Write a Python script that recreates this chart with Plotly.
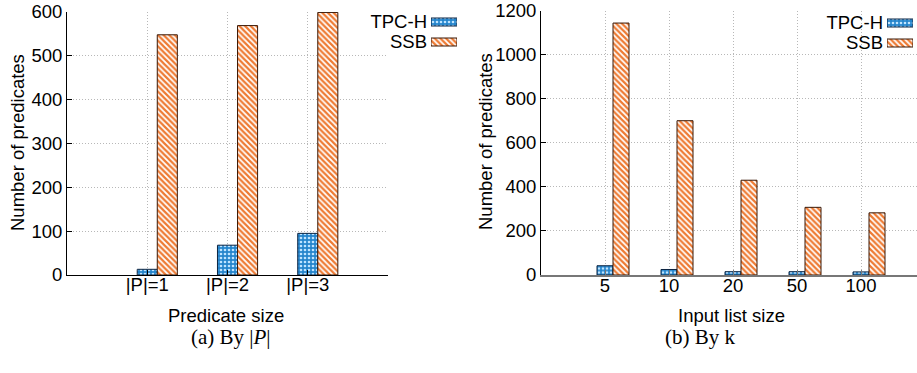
import plotly.graph_objects as go

# ---------------- data ----------------
series_names = ["TPC-H", "SSB"]

cats_p = ["|P|=1", "|P|=2", "|P|=3"]
tpch_p = [13, 68, 95]
ssb_p = [548, 569, 599]

cats_k = ["5", "10", "20", "50", "100"]
tpch_k = [42, 25, 15, 15, 14]
ssb_k = [1143, 700, 430, 307, 282]

# ---------------- styling ----------------
W, H = 917, 373
FONT = "Liberation Sans"
FS = 18.5
SERIF = "Liberation Serif"
BLUE = "#2585cc"
BLUE_DOT = "#bfe4ff"
BLUE_LINE = "#0b2340"
ORANGE = "#ee7a32"
ORANGE_LINE = "#3a1806"
BAR_W = 0.25


def px_x(p):
    return p / W


def px_y(p):
    return 1 - p / H


def tpch_marker():
    return dict(color=BLUE,
                pattern=dict(shape=".", fgcolor=BLUE_DOT, bgcolor=BLUE, size=4, solidity=0.35,
                             fillmode="replace"),
                line=dict(color=BLUE_LINE, width=1))


def ssb_marker():
    return dict(color=ORANGE,
                pattern=dict(shape="\\", fgcolor=ORANGE, bgcolor="white", size=4, solidity=0.55,
                             fillmode="replace"),
                line=dict(color=ORANGE_LINE, width=1))


fig = go.Figure()

# left chart
pos_p = list(range(1, len(cats_p) + 1))
fig.add_trace(go.Bar(x=pos_p, y=tpch_p, width=BAR_W, offset=-BAR_W / 2, marker=tpch_marker(),
                     name=series_names[0], xaxis="x", yaxis="y", showlegend=False))
fig.add_trace(go.Bar(x=pos_p, y=ssb_p, width=BAR_W, offset=BAR_W / 2, marker=ssb_marker(),
                     name=series_names[1], xaxis="x", yaxis="y", showlegend=False))

# right chart
pos_k = list(range(1, len(cats_k) + 1))
fig.add_trace(go.Bar(x=pos_k, y=tpch_k, width=BAR_W, offset=-BAR_W / 2, marker=tpch_marker(),
                     name=series_names[0], xaxis="x2", yaxis="y2", showlegend=False))
fig.add_trace(go.Bar(x=pos_k, y=ssb_k, width=BAR_W, offset=BAR_W / 2, marker=ssb_marker(),
                     name=series_names[1], xaxis="x2", yaxis="y2", showlegend=False))

# custom legends (text on left, swatch on right, like gnuplot)
for xa, ya in (("x3", "y3"), ("x4", "y4")):
    fig.add_trace(go.Bar(y=[series_names[0]], x=[1], orientation="h", width=0.4,
                         marker=tpch_marker(), xaxis=xa, yaxis=ya, showlegend=False,
                         hoverinfo="skip"))
    fig.add_trace(go.Bar(y=[series_names[1]], x=[1], orientation="h", width=0.4,
                         marker=ssb_marker(), xaxis=xa, yaxis=ya, showlegend=False,
                         hoverinfo="skip"))

grid = dict(showgrid=True, gridcolor="#b8b8b8", griddash="1px,2px", gridwidth=1)
tickfont = dict(family=FONT, size=FS, color="black")

legend_y = dict(type="category", categoryorder="array", categoryarray=series_names,
                tickmode="array", tickvals=series_names, ticktext=series_names,
                autorange="reversed", showgrid=False, showline=False, ticks="",
                zeroline=False, tickfont=tickfont, ticklabelstandoff=3, automargin=False)

common = dict(zeroline=False, automargin=False, ticklabeloverflow="allow", tickfont=tickfont)

fig.update_layout(
    width=W, height=H,
    margin=dict(l=0, r=0, t=0, b=0, autoexpand=False),
    paper_bgcolor="white", plot_bgcolor="white",
    barmode="overlay",
    font=dict(family=FONT, size=FS, color="black"),
    xaxis=dict(domain=[px_x(67), px_x(388)], range=[0, len(cats_p) + 1],
               tickvals=pos_p, ticktext=cats_p, ticks="inside", ticklen=5,
               tickcolor="black", showline=True, linecolor="black", linewidth=1,
               ticklabelstandoff=-7, anchor="y", **common, **grid),
    yaxis=dict(domain=[px_y(275), px_y(12)], range=[0, 600], dtick=100,
               ticks="inside", ticklen=5, tickcolor="black",
               showline=True, linecolor="black", linewidth=1,
               anchor="x", **common, **grid),
    xaxis2=dict(domain=[px_x(541), 1.0], range=[0, 5.875],
                tickvals=pos_k, ticktext=cats_k, ticks="inside", ticklen=5,
                tickcolor="#777777", showline=True, linecolor="#777777", linewidth=1.5,
                ticklabelstandoff=-7, anchor="y2", **common, **grid),
    yaxis2=dict(domain=[px_y(275), px_y(10.5)], range=[0, 1200], dtick=200,
                ticks="inside", ticklen=5, tickcolor="black",
                showline=True, linecolor="black", linewidth=1,
                anchor="x2", **common, **grid),
    xaxis3=dict(domain=[px_x(431), px_x(457)], range=[0, 1], visible=False, anchor="y3",
                automargin=False),
    yaxis3=dict(domain=[px_y(52), px_y(12)], anchor="x3", **legend_y),
    xaxis4=dict(domain=[px_x(887), px_x(913)], range=[0, 1], visible=False, anchor="y4",
                automargin=False),
    yaxis4=dict(domain=[px_y(53), px_y(13)], anchor="x4", **legend_y),
)

annotations = [
    dict(text="Number of predicates", x=px_x(17), y=px_y(143), textangle=-90),
    dict(text="Number of predicates", x=px_x(485), y=px_y(141), textangle=-90),
    dict(text="Predicate size", x=px_x(226), y=px_y(315)),
    dict(text="Input list size", x=px_x(731), y=px_y(315)),
    dict(text="(a) By |<i>P</i>|", x=px_x(231), y=px_y(337),
         font=dict(family=SERIF, size=21, color="black")),
    dict(text="(b) By k", x=px_x(700), y=px_y(337),
         font=dict(family=SERIF, size=21, color="black")),
]
for a in annotations:
    a.setdefault("font", dict(family=FONT, size=FS, color="black"))
    fig.add_annotation(xref="paper", yref="paper", showarrow=False,
                       xanchor="center", yanchor="middle", **a)

fig.write_html("out.html")
